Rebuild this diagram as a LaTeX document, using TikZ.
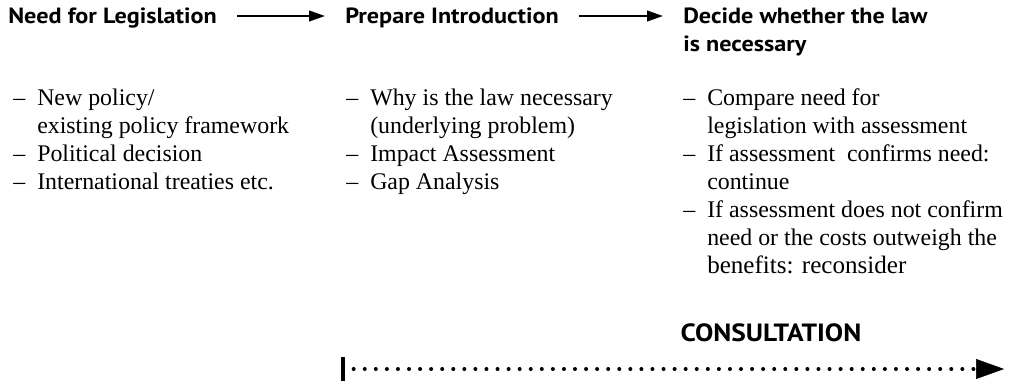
\documentclass[tikz,border=0pt]{standalone}
\usepackage{fontspec}
\setmainfont{Liberation Serif}
\newfontfamily\headfont[FakeStretch=1.1]{PT Sans}
\usetikzlibrary{arrows.meta}

% one list entry: dash, then the text; a continuation line is only indented
\newcommand{\entry}[1]{\makebox[18pt][l]{–}#1}
\newcommand{\cont}[1]{\hspace*{18pt}#1}
\newenvironment{steplist}{\begin{tabular}[t]{@{}l@{}}}{\end{tabular}}

\begin{document}
\begin{tikzpicture}[x=0.75pt,y=-0.75pt,
  heading/.style={anchor=base west,inner sep=0pt,font=\headfont\bfseries\fontsize{16.5}{21}\selectfont},
  items/.style={anchor=base west,inner sep=0pt,font=\fontsize{17.9}{21}\selectfont},
  flow/.style={line width=1.5pt,-{Triangle[length=12pt,width=8pt]},shorten <=15pt,shorten >=15pt},
  process/.style={line width=3pt,line cap=round,dash pattern=on 0pt off 8.3pt},
  processhead/.style={-{Triangle[length=21pt,width=15pt]}}]
\useasboundingbox (0,0) rectangle (1010,383);

% stage headings
\node[heading] (need) at (8,23) {Need for Legislation};
\node[heading] (prep) at (345,23) {Prepare Introduction};
\node[heading] (decide) at (683,23) {Decide whether the law};
\node[heading] (decide2) at (683,51) {is necessary};

\draw[flow] (need.east |- 0,16) -- (prep.west |- 0,16);
\draw[flow] (prep.east |- 0,16) -- (decide.west |- 0,16);

% contents of each stage
\node[items] (needlist) at (13,105) {\begin{steplist}
  \entry{New policy/}\\
  \cont{existing policy framework}\\
  \entry{Political decision}\\
  \entry{International treaties etc.}
\end{steplist}};

\node[items] (preplist) at (346,105) {\begin{steplist}
  \entry{Why is the law necessary}\\
  \cont{(underlying problem)}\\
  \entry{Impact Assessment}\\
  \entry{Gap Analysis}
\end{steplist}};

\node[items] (decidelist) at (683,105) {\begin{steplist}
  \entry{Compare need for}\\
  \cont{legislation with assessment}\\
  \entry{If assessment\ \ confirms need:}\\
  \cont{continue}\\
  \entry{If assessment does not confirm}\\
  \cont{need or the costs outweigh the}\\
  \cont{{\fontsize{18.8}{21}\selectfont benefits: reconsider}}
\end{steplist}};

% consultation runs alongside the last two stages
\coordinate (cstart) at (343,369);
\coordinate (cend) at (1004,369);
\node[anchor=base,inner sep=0pt,font=\headfont\bfseries\fontsize{18.7}{22}\selectfont] (consult) at (771,341) {CONSULTATION};
\draw[line width=3pt] ([yshift=-9pt]cstart) -- ([yshift=9pt]cstart);
\draw[process] ([xshift=8pt]cstart) -- ([xshift=-18pt]cend);
\draw[processhead] ([xshift=-21pt]cend) -- (cend);
\end{tikzpicture}
\end{document}
